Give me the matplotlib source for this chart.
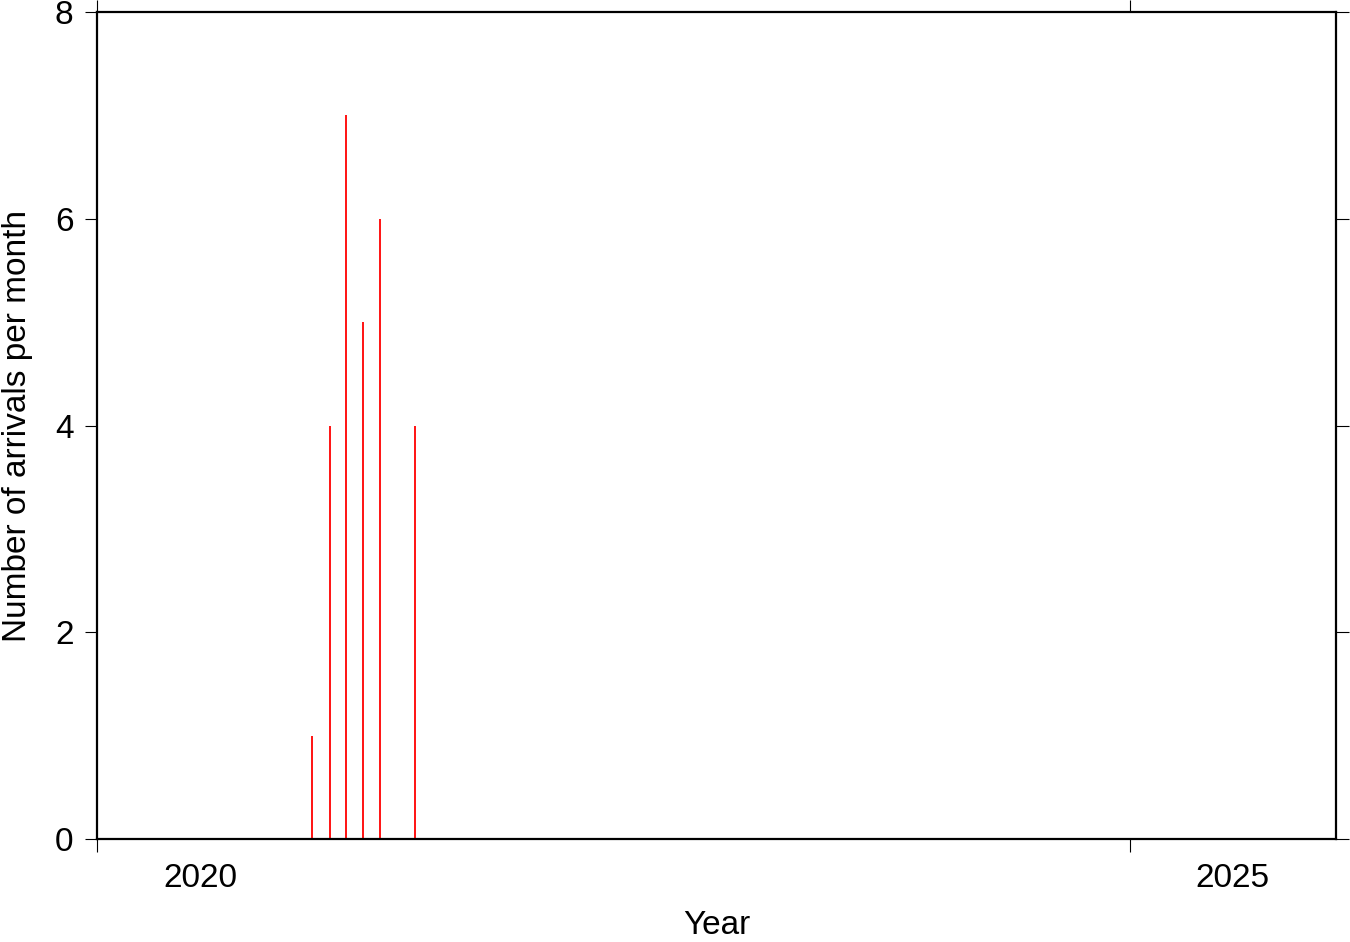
import matplotlib
matplotlib.use("Agg")
import matplotlib.pyplot as plt
import matplotlib.dates as mdates
from matplotlib.ticker import FixedLocator, NullFormatter, FixedFormatter
from datetime import datetime

months = ["2021-01", "2021-02", "2021-03", "2021-04", "2021-05", "2021-07"]
counts = [1, 4, 7, 5, 6, 4]
year_labels = ["2020", "2025"]
y_ticks = [0, 2, 4, 6, 8]

plt.rcParams['font.family'] = ['Liberation Sans', 'DejaVu Sans']

fig = plt.figure(figsize=(13.5, 9.42), dpi=100)
ax = fig.add_axes([97/1350, 1-839/942, (1336-97)/1350, (839-12)/942])

dates = [datetime.strptime(m + "-16", "%Y-%m-%d") for m in months]
ax.vlines(dates, 0, counts, colors='red', linewidth=1.3)

ax.set_xlim(datetime(2020, 1, 1), datetime(2026, 1, 1))
ax.set_ylim(0, 8)

major = [mdates.date2num(datetime(int(y), 1, 1)) for y in year_labels]
minor = [mdates.date2num(datetime(int(y), 7, 2)) for y in year_labels]
ax.xaxis.set_major_locator(FixedLocator(major))
ax.xaxis.set_major_formatter(NullFormatter())
ax.xaxis.set_minor_locator(FixedLocator(minor))
ax.xaxis.set_minor_formatter(FixedFormatter(year_labels))
ax.tick_params(axis='x', which='major', direction='out', length=9, width=0.8,
               top=True, bottom=True)
ax.tick_params(axis='x', which='minor', length=0, pad=17, labelsize=24,
               top=False, bottom=True)
ax.set_yticks(y_ticks)
ax.tick_params(axis='y', which='major', direction='out', length=9, width=0.8,
               left=True, right=True, labelsize=24, pad=8)

for s in ax.spines.values():
    s.set_linewidth(1.6)

ax.set_xlabel("Year", fontsize=24, labelpad=12)
ax.set_ylabel("Number of arrivals per month", fontsize=24, labelpad=16)

fig.savefig("out.png", dpi=100)
